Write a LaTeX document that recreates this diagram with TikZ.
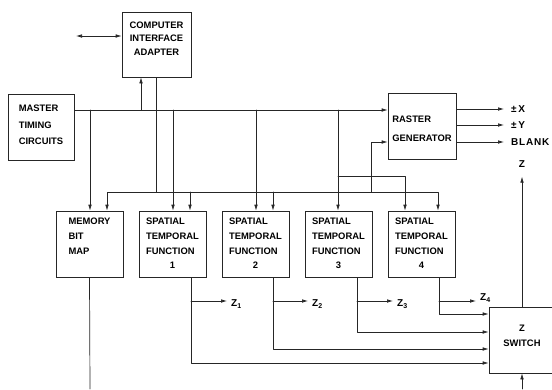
\documentclass[tikz,border=0pt]{standalone}
\usepackage{fontspec}
\setmainfont{Liberation Sans}
\newfontfamily\widefont[LetterSpace=8]{Liberation Sans}
\usetikzlibrary{arrows.meta}
\newcommand{\stflabel}[1]{\begin{tabular}{@{}l@{}}SPATIAL\\TEMPORAL\\FUNCTION\\\hfil #1\end{tabular}}

\begin{document}
\begin{tikzpicture}[x=1pt,y=-1pt]
\tikzset{
  blockbox/.style={draw=black!85,line width=0.7pt,minimum width=67pt,minimum height=66pt,inner sep=0pt,font=\bfseries\fontsize{9.4}{#1}\selectfont},
  blockbox/.default=14.7pt,
  sigline/.style={draw=black!85,line width=0.7pt,line cap=round,line join=round},
  sigarrow/.style={sigline,-{Latex[length=6pt,width=3.6pt]}},
  sigboth/.style={sigline,{Latex[length=6pt,width=3.6pt]}-{Latex[length=6pt,width=3.6pt]}},
  siglabel/.style={inner sep=0pt,font=\bfseries\fontsize{10}{12}\selectfont}
}
\clip (0,0) rectangle (552,389);
\node[blockbox=13.8pt,minimum width=69pt,minimum height=65pt] (n_CIA) at (156.5,44.5) {\raisebox{-1.5pt}[\height][\depth]{\begin{tabular}{@{}c@{}}COMPUTER\\INTERFACE\\ADAPTER\\{}\end{tabular}}};
\node[blockbox=16.3pt,minimum width=66pt] (n_MTC) at (41,127) {\raisebox{2pt}[\height][\depth]{\begin{tabular}{@{}l@{}}MASTER\\TIMING\\CIRCUITS\end{tabular}}};
\node[blockbox=19pt,minimum width=68pt] (n_RG) at (422,126) {\raisebox{-2.5pt}[\height][\depth]{\begin{tabular}{@{}l@{}}RASTER\\GENERATOR\end{tabular}}};
\node[blockbox=14.8pt] (n_MBM) at (89.5,244) {\begin{tabular}{@{}l@{}}MEMORY\\BIT\\MAP\\{}\end{tabular}};
\node[blockbox] (n_STF1) at (172.5,244) {\stflabel{1}};
\node[blockbox] (n_STF2) at (255.5,244) {\stflabel{2}};
\node[blockbox] (n_STF3) at (338.5,244) {\stflabel{3}};
\node[blockbox] (n_STF4) at (421.5,244) {\stflabel{4}};
\node[blockbox=15pt,minimum width=66pt] (n_ZS) at (522,340) {\raisebox{4pt}[\height][\depth]{\begin{tabular}{@{}c@{}}Z\\SWITCH\end{tabular}}};
\node[siglabel,anchor=west] (n_X) at (511,109) {\widefont ±\,X};
\node[siglabel,anchor=west] (n_Y) at (511,125) {\widefont ±\,Y};
\node[siglabel,anchor=west] (n_BLANK) at (511,142) {\widefont BLANK};
\node[siglabel] (n_Z) at (522,164) {Z};
\node[siglabel,anchor=base west] (n_Z1) at (231,306.5) {Z\textsubscript{1}};
\node[siglabel,anchor=base west] (n_Z2) at (312,306.5) {Z\textsubscript{2}};
\node[siglabel,anchor=base west] (n_Z3) at (397,306.5) {Z\textsubscript{3}};
\node[siglabel,anchor=base west] (n_Z4) at (480,300.5) {Z\textsubscript{4}};
\coordinate (c_io) at (76,36);
\coordinate (c_mbm) at (90,389);
\coordinate (c_zin) at (522,389);
\draw[sigboth] (c_io) -- (n_CIA.west |- c_io);
\draw[sigarrow] (n_MTC.east |- 0,110) -- (n_RG.west |- 0,110);
\draw[sigarrow] (141,110) -- (n_CIA.south -| 141,0);
\draw[sigarrow] (90,110) -- (n_MBM.north -| 90,0);
\draw[sigarrow] (173,110) -- (n_STF1.north -| 173,0);
\draw[sigarrow] (256,110) -- (n_STF2.north -| 256,0);
\draw[sigarrow] (338,110) -- (n_STF3.north -| 338,0);
\draw[sigline] (n_CIA.south -| 156,0) -- (156,192);
\draw[sigarrow] (156,192) -- (107,192) -- (n_MBM.north -| 107,0);
\draw[sigarrow] (156,192) -- (438,192) -- (n_STF4.north -| 438,0);
\draw[sigarrow] (190,192) -- (n_STF1.north -| 190,0);
\draw[sigarrow] (273,192) -- (n_STF2.north -| 273,0);
\draw[sigarrow] (371,192) -- (371,142) -- (n_RG.west |- 0,142);
\draw[sigarrow] (338,176) -- (405,176) -- (n_STF4.north -| 405,0);
\draw[sigarrow,shorten >=7pt] (n_RG.east |- n_X) -- (n_X.west);
\draw[sigarrow,shorten >=7pt] (n_RG.east |- n_Y) -- (n_Y.west);
\draw[sigarrow,shorten >=7pt] (n_RG.east |- n_BLANK) -- (n_BLANK.west);
\draw[sigarrow,shorten >=9pt] (n_ZS.north) -- (n_Z.south);
\draw[sigarrow] (n_STF1.south -| 191,0) -- (191,363) -- (n_ZS.west |- 0,363);
\draw[sigarrow] (n_STF2.south -| 273,0) -- (273,349) -- (n_ZS.west |- 0,349);
\draw[sigarrow] (n_STF3.south -| 357,0) -- (357,332) -- (n_ZS.west |- 0,332);
\draw[sigarrow] (n_STF4.south -| 439,0) -- (439,314) -- (n_ZS.west |- 0,314);
\draw[sigarrow,shorten >=4pt] (191,301) -- (n_Z1.west |- 0,301);
\draw[sigarrow,shorten >=4pt] (273,301) -- (n_Z2.west |- 0,301);
\draw[sigarrow,shorten >=4pt] (357,301) -- (n_Z3.west |- 0,301);
\draw[sigarrow,shorten >=4pt] (439,301) -- (n_Z4.west |- 0,301);
\draw[sigline] (n_MBM.south) -- (c_mbm);
\draw[sigarrow] (c_zin) -- (n_ZS.south);
\end{tikzpicture}
\end{document}
